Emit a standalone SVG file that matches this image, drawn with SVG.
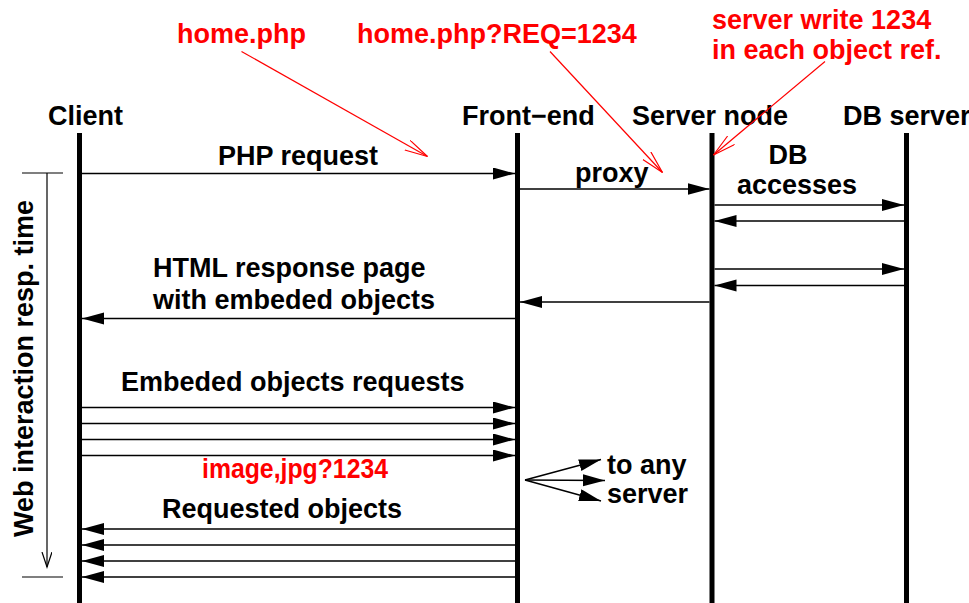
<svg xmlns="http://www.w3.org/2000/svg" width="969" height="603" viewBox="0 0 969 603">
  <style>
    text { font-family: "Liberation Sans", Arial, sans-serif; font-weight: bold; font-size: 27px; fill: #000; }
    text.note { fill: #ff0000; }
    .life { stroke: #000; stroke-width: 5; }
    .msg { stroke: #000; stroke-width: 1.5; fill: none; }
    .ann { stroke: #ff0000; stroke-width: 1.2; fill: none; }
    .thin { stroke: #000; stroke-width: 1.2; fill: none; }
  </style>
  <defs>
    <marker id="head" markerUnits="userSpaceOnUse" markerWidth="24" markerHeight="14" refX="22" refY="6" orient="auto">
      <path d="M0,0 L22,6 L0,12 z" fill="#000"/>
    </marker>
    <marker id="openRed" markerUnits="userSpaceOnUse" markerWidth="26" markerHeight="14" refX="23" refY="6" orient="auto">
      <path d="M0,0.5 L23,6 L0,11.5" fill="none" stroke="#ff0000" stroke-width="1.2"/>
    </marker>
    <marker id="openBlack" markerUnits="userSpaceOnUse" markerWidth="18" markerHeight="12" refX="15" refY="5" orient="auto">
      <path d="M0,0 L15,5 L0,10" fill="none" stroke="#000" stroke-width="1.2"/>
    </marker>
  </defs>

  <rect width="969" height="603" fill="#fff"/>

  <!-- participants -->
  <g id="client">
    <text x="48" y="125">Client</text>
    <line class="life" x1="79.5" y1="133" x2="79.5" y2="603"/>
  </g>
  <g id="front-end">
    <text x="462" y="125">Front−end</text>
    <line class="life" x1="517.5" y1="133" x2="517.5" y2="603"/>
  </g>
  <g id="server-node">
    <text x="632" y="125">Server node</text>
    <line class="life" x1="712" y1="133" x2="712" y2="603"/>
  </g>
  <g id="db-server">
    <text x="843" y="125">DB server</text>
    <line class="life" x1="906.5" y1="133" x2="906.5" y2="603"/>
  </g>

  <!-- response time bracket -->
  <g id="resp-time">
    <line class="thin" x1="22" y1="173" x2="63" y2="173"/>
    <line class="thin" x1="22" y1="577" x2="63" y2="577"/>
    <line class="thin" x1="47" y1="173" x2="47" y2="567" marker-end="url(#openBlack)"/>
    <text transform="translate(33,368.5) rotate(-90)" text-anchor="middle">Web interaction resp. time</text>
  </g>

  <!-- message labels -->
  <g id="labels">
    <text x="218" y="165">PHP request</text>
    <text x="575" y="182">proxy</text>
    <text x="788" y="164" text-anchor="middle">DB</text>
    <text x="737" y="194">accesses</text>
    <text x="153" y="277">HTML response page</text>
    <text x="153" y="309">with embeded objects</text>
    <text x="121" y="391">Embeded objects requests</text>
    <text x="162" y="518">Requested objects</text>
    <text x="607" y="474">to any</text>
    <text x="607" y="503">server</text>
  </g>

  <!-- annotations -->
  <g id="notes">
    <text class="note" x="177" y="43">home.php</text>
    <text class="note" x="357" y="43">home.php?REQ=1234</text>
    <text class="note" x="712" y="29">server write 1234</text>
    <text class="note" x="712" y="59">in each object ref.</text>
    <text class="note" x="202" y="478" textLength="186" lengthAdjust="spacingAndGlyphs">image,jpg?1234</text>
  </g>

  <!-- connectors -->
  <g id="connectors">
    <line class="msg" x1="82" y1="173.5" x2="515" y2="173.5" marker-end="url(#head)"/>
    <line class="msg" x1="520" y1="189" x2="709.5" y2="189" marker-end="url(#head)"/>
    <line class="msg" x1="714.5" y1="205" x2="904" y2="205" marker-end="url(#head)"/>
    <line class="msg" x1="904" y1="221" x2="714.5" y2="221" marker-end="url(#head)"/>
    <line class="msg" x1="714.5" y1="269" x2="904" y2="269" marker-end="url(#head)"/>
    <line class="msg" x1="904" y1="285.5" x2="714.5" y2="285.5" marker-end="url(#head)"/>
    <line class="msg" x1="709.5" y1="302" x2="520" y2="302" marker-end="url(#head)"/>
    <line class="msg" x1="515" y1="318.5" x2="82" y2="318.5" marker-end="url(#head)"/>

    <line class="msg" x1="82" y1="407.5" x2="515" y2="407.5" marker-end="url(#head)"/>
    <line class="msg" x1="82" y1="423.5" x2="515" y2="423.5" marker-end="url(#head)"/>
    <line class="msg" x1="82" y1="439.5" x2="515" y2="439.5" marker-end="url(#head)"/>
    <line class="msg" x1="82" y1="455.5" x2="515" y2="455.5" marker-end="url(#head)"/>

    <line class="msg" x1="525" y1="480" x2="601" y2="459.5" marker-end="url(#head)"/>
    <line class="msg" x1="525" y1="480" x2="605" y2="480.5" marker-end="url(#head)"/>
    <line class="msg" x1="525" y1="480" x2="601" y2="501" marker-end="url(#head)"/>

    <line class="msg" x1="515" y1="529" x2="82" y2="529" marker-end="url(#head)"/>
    <line class="msg" x1="515" y1="545" x2="82" y2="545" marker-end="url(#head)"/>
    <line class="msg" x1="515" y1="561" x2="82" y2="561" marker-end="url(#head)"/>
    <line class="msg" x1="515" y1="577" x2="82" y2="577" marker-end="url(#head)"/>

    <line class="ann" x1="241.5" y1="51.5" x2="427.5" y2="156.5" marker-end="url(#openRed)"/>
    <line class="ann" x1="550" y1="51.5" x2="662.5" y2="172.5" marker-end="url(#openRed)"/>
    <line class="ann" x1="825" y1="61.5" x2="713.5" y2="155" marker-end="url(#openRed)"/>
  </g>
</svg>
